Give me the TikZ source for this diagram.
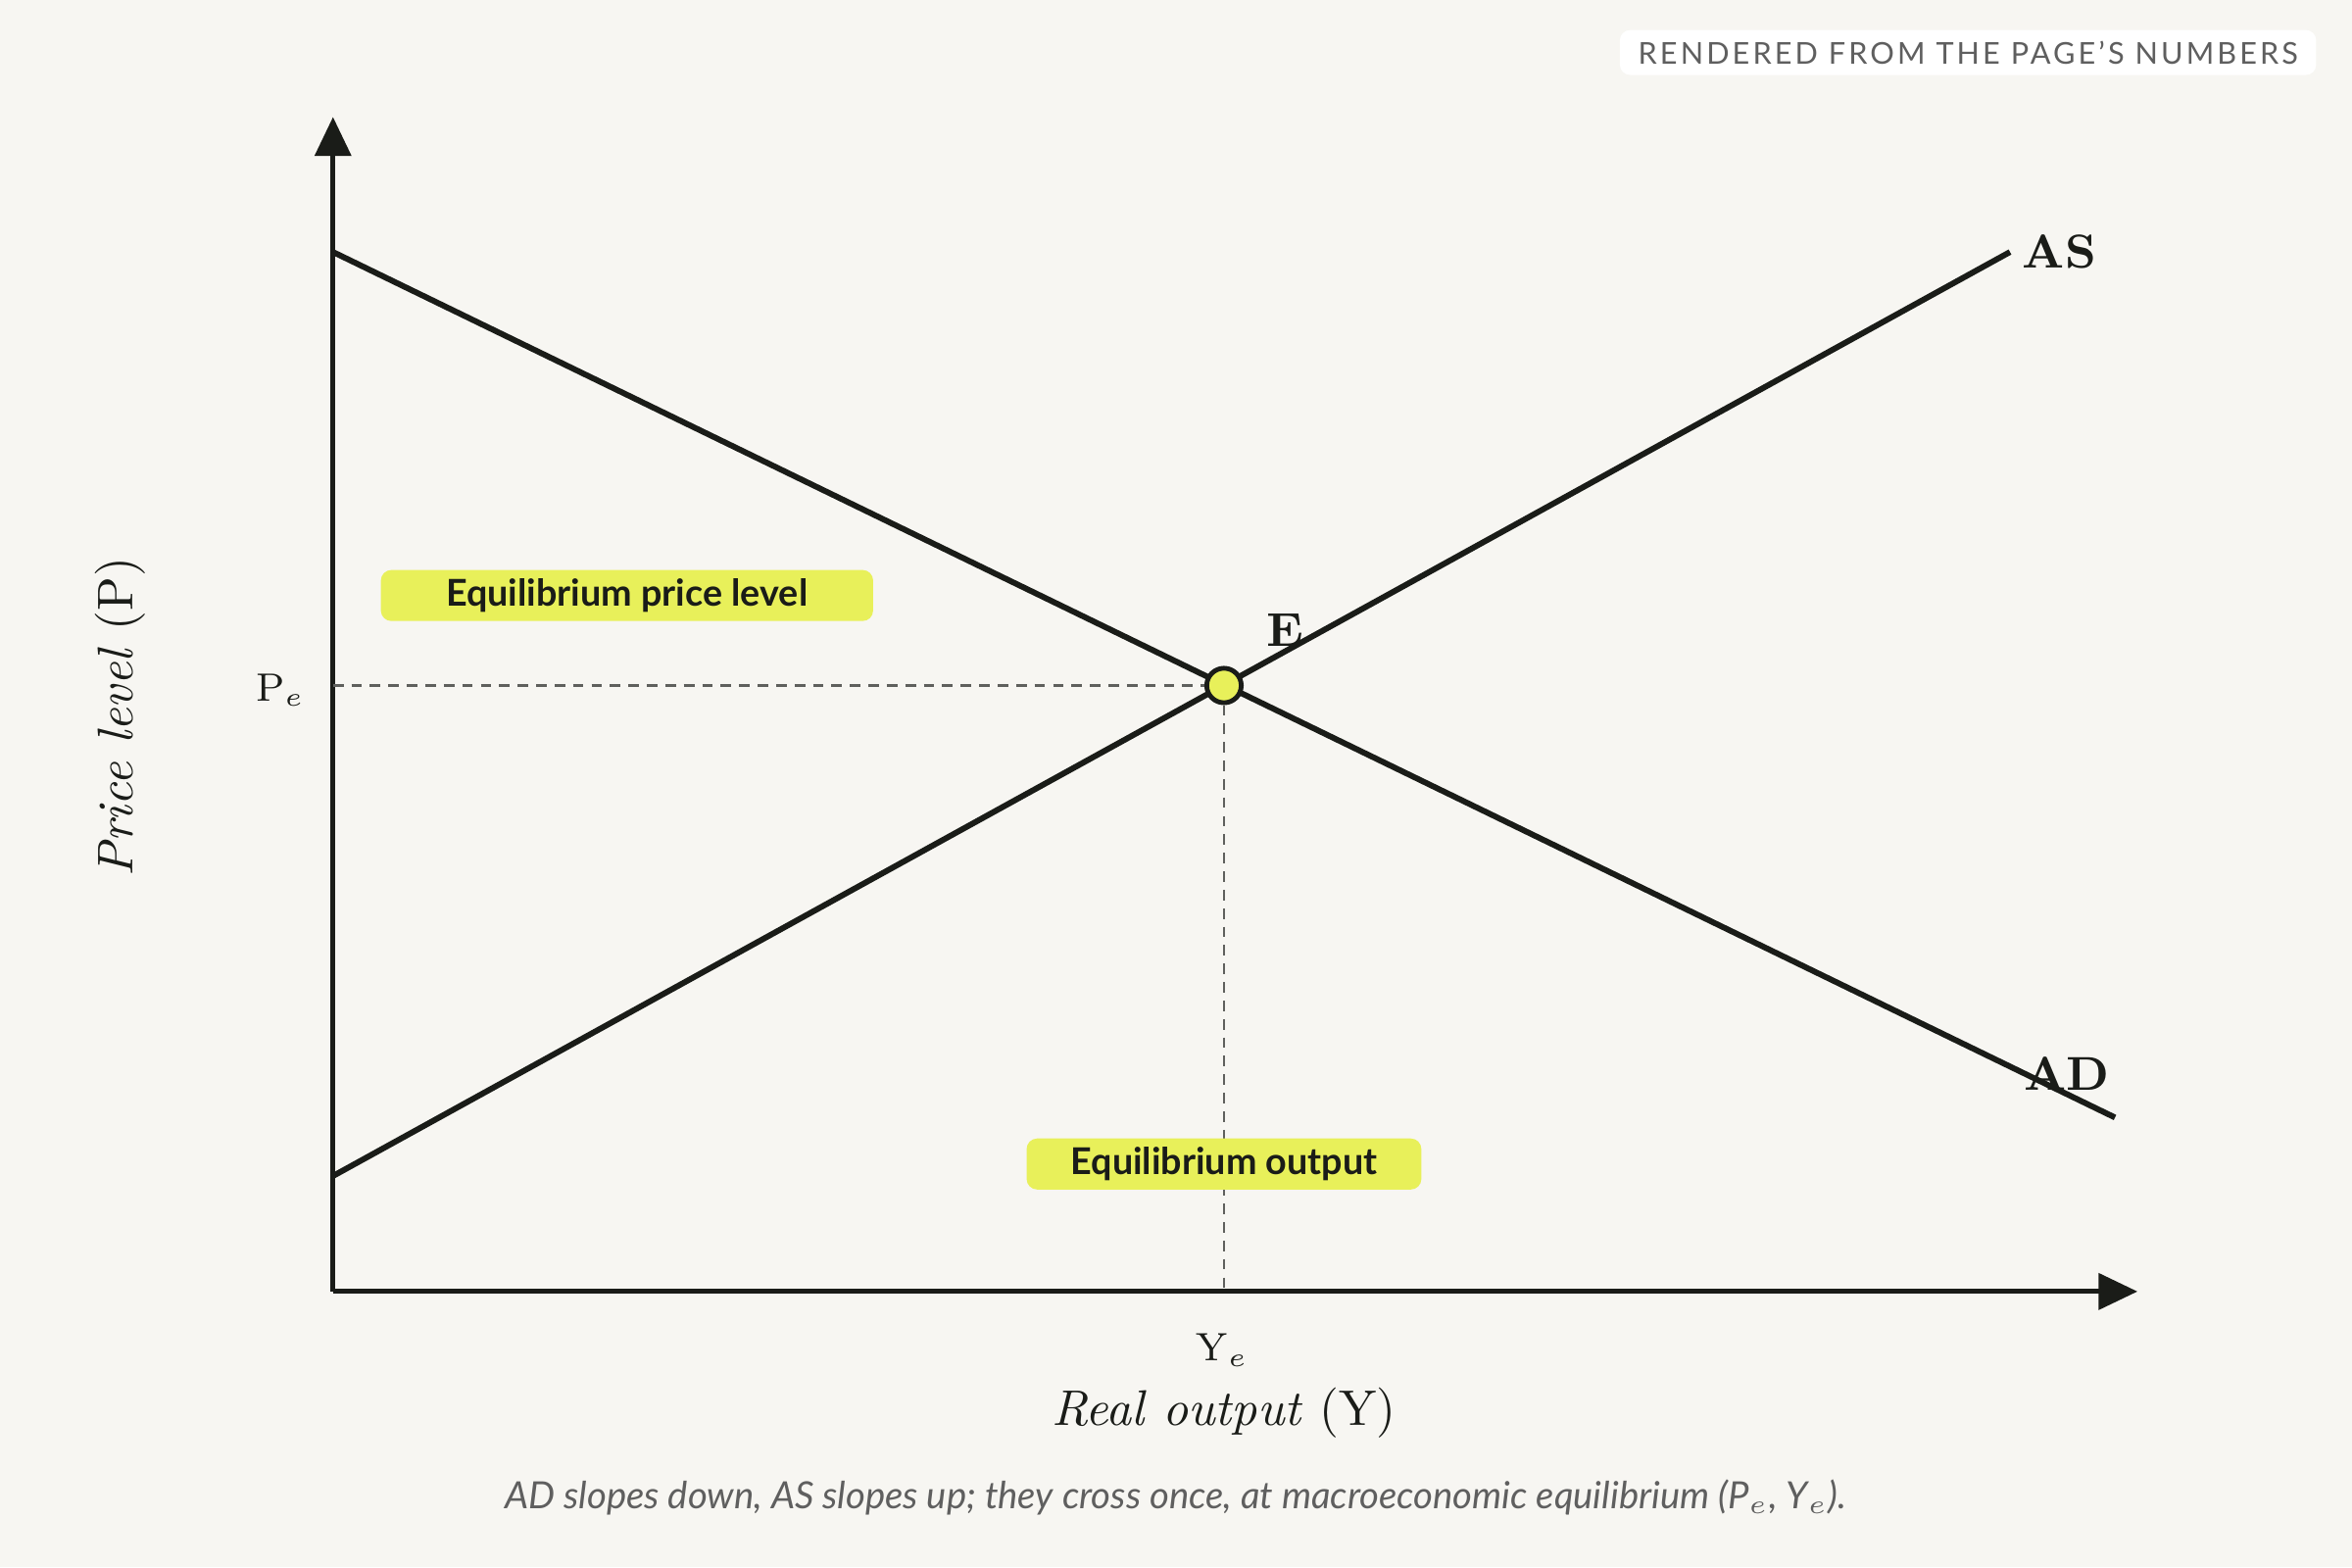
\documentclass[tikz,border=0pt]{standalone}
\usepackage{fontspec}
\setsansfont{Lato}
\usetikzlibrary{positioning, arrows.meta, calc}
\definecolor{bgpaper}{HTML}{F7F6F2}
\definecolor{ink}{HTML}{1A1C18}
\definecolor{marker}{HTML}{E8F05A}
\definecolor{note}{HTML}{5F5F5F}
\newcommand{\fsz}[1]{\fontsize{#1pt}{#1pt}\selectfont}
\begin{document}
\begin{tikzpicture}[
    x=0.01cm, y=-0.01cm,
    % Styles
    curve/.style={line width=1.1pt, draw=ink},
    axis/.style={line width=0.9pt, draw=ink, -{Triangle[length=2.6mm, width=2.4mm]}},
    guide/.style={dash pattern=on 2pt off 1.5pt, line width=0.5pt, draw=ink!70},
    tag/.style={fill=marker, rounded corners=2pt, font=\sffamily\bfseries\fsz{7},
        text=ink, minimum height=0.34cm, inner sep=1pt},
    curvelabel/.style={font=\bfseries\fsz{9}, text=ink},
    ticklabel/.style={font=\fsz{7.5}, text=ink}
]
% Background and frame
\fill[bgpaper] (0,0) rectangle (1568,1045);
\useasboundingbox (0,0) rectangle (1568,1045);

% Corner note
\node[fill=white, rounded corners=2pt, font=\sffamily\fsz{5.7}, text=note,
    minimum width=4.64cm, minimum height=0.3cm, inner sep=1pt] (stamp) at (1312,35)
    {\addfontfeature{LetterSpace=10}RENDERED FROM THE PAGE'S NUMBERS};

% Points
\coordinate (origin) at (222,861);
\coordinate (ytop) at (222,78);
\coordinate (xend) at (1425,861);
\coordinate (adstart) at (222,168);
\coordinate (adend) at (1410,745);
\coordinate (asstart) at (222,784);
\coordinate (asend) at (1340,168);
\coordinate (pe) at (222,457);
\coordinate (ye) at (816,861);

% Axes
\draw[axis] (origin) -- (ytop);
\draw[axis] (origin) -- (xend);

% Curves
\draw[curve] (adstart) -- (adend);
\draw[curve] (asstart) -- (asend);

% Equilibrium point
\node[circle, draw=ink, line width=0.9pt, fill=marker, minimum size=0.23cm,
    inner sep=0pt] (eq) at (816,457) {};
\draw[guide] (pe) -- (eq);
\draw[guide] (eq) -- (ye);

% Labels
\node[curvelabel] (aslabel) at (1373,168) {AS};
\node[curvelabel] (adlabel) at (1378,716) {AD};
\node[curvelabel] (elabel) at (857,420) {E};
\node[ticklabel] (pelabel) at (187,460) {P$_e$};
\node[ticklabel] (yelabel) at (815,900) {Y$_e$};
\node[font=\fsz{9.5}, text=ink] (xlabel) at (816,942) {\textit{Real output} (Y)};
\node[font=\fsz{9.5}, text=ink, rotate=90] (ylabel) at (80,478) {\textit{Price level} (P)};

% Highlight notes
\node[tag, minimum width=3.28cm] (pricenote) at (418,397) {Equilibrium price level};
\node[tag, minimum width=2.63cm] (outputnote) at (816,776) {Equilibrium output};

% Caption
\node[font=\sffamily\itshape\fsz{7.1}, text=note] (caption) at (784,998)
    {AD slopes down, AS slopes up; they cross once, at macroeconomic equilibrium (P$_e$, Y$_e$).};
\end{tikzpicture}
\end{document}
